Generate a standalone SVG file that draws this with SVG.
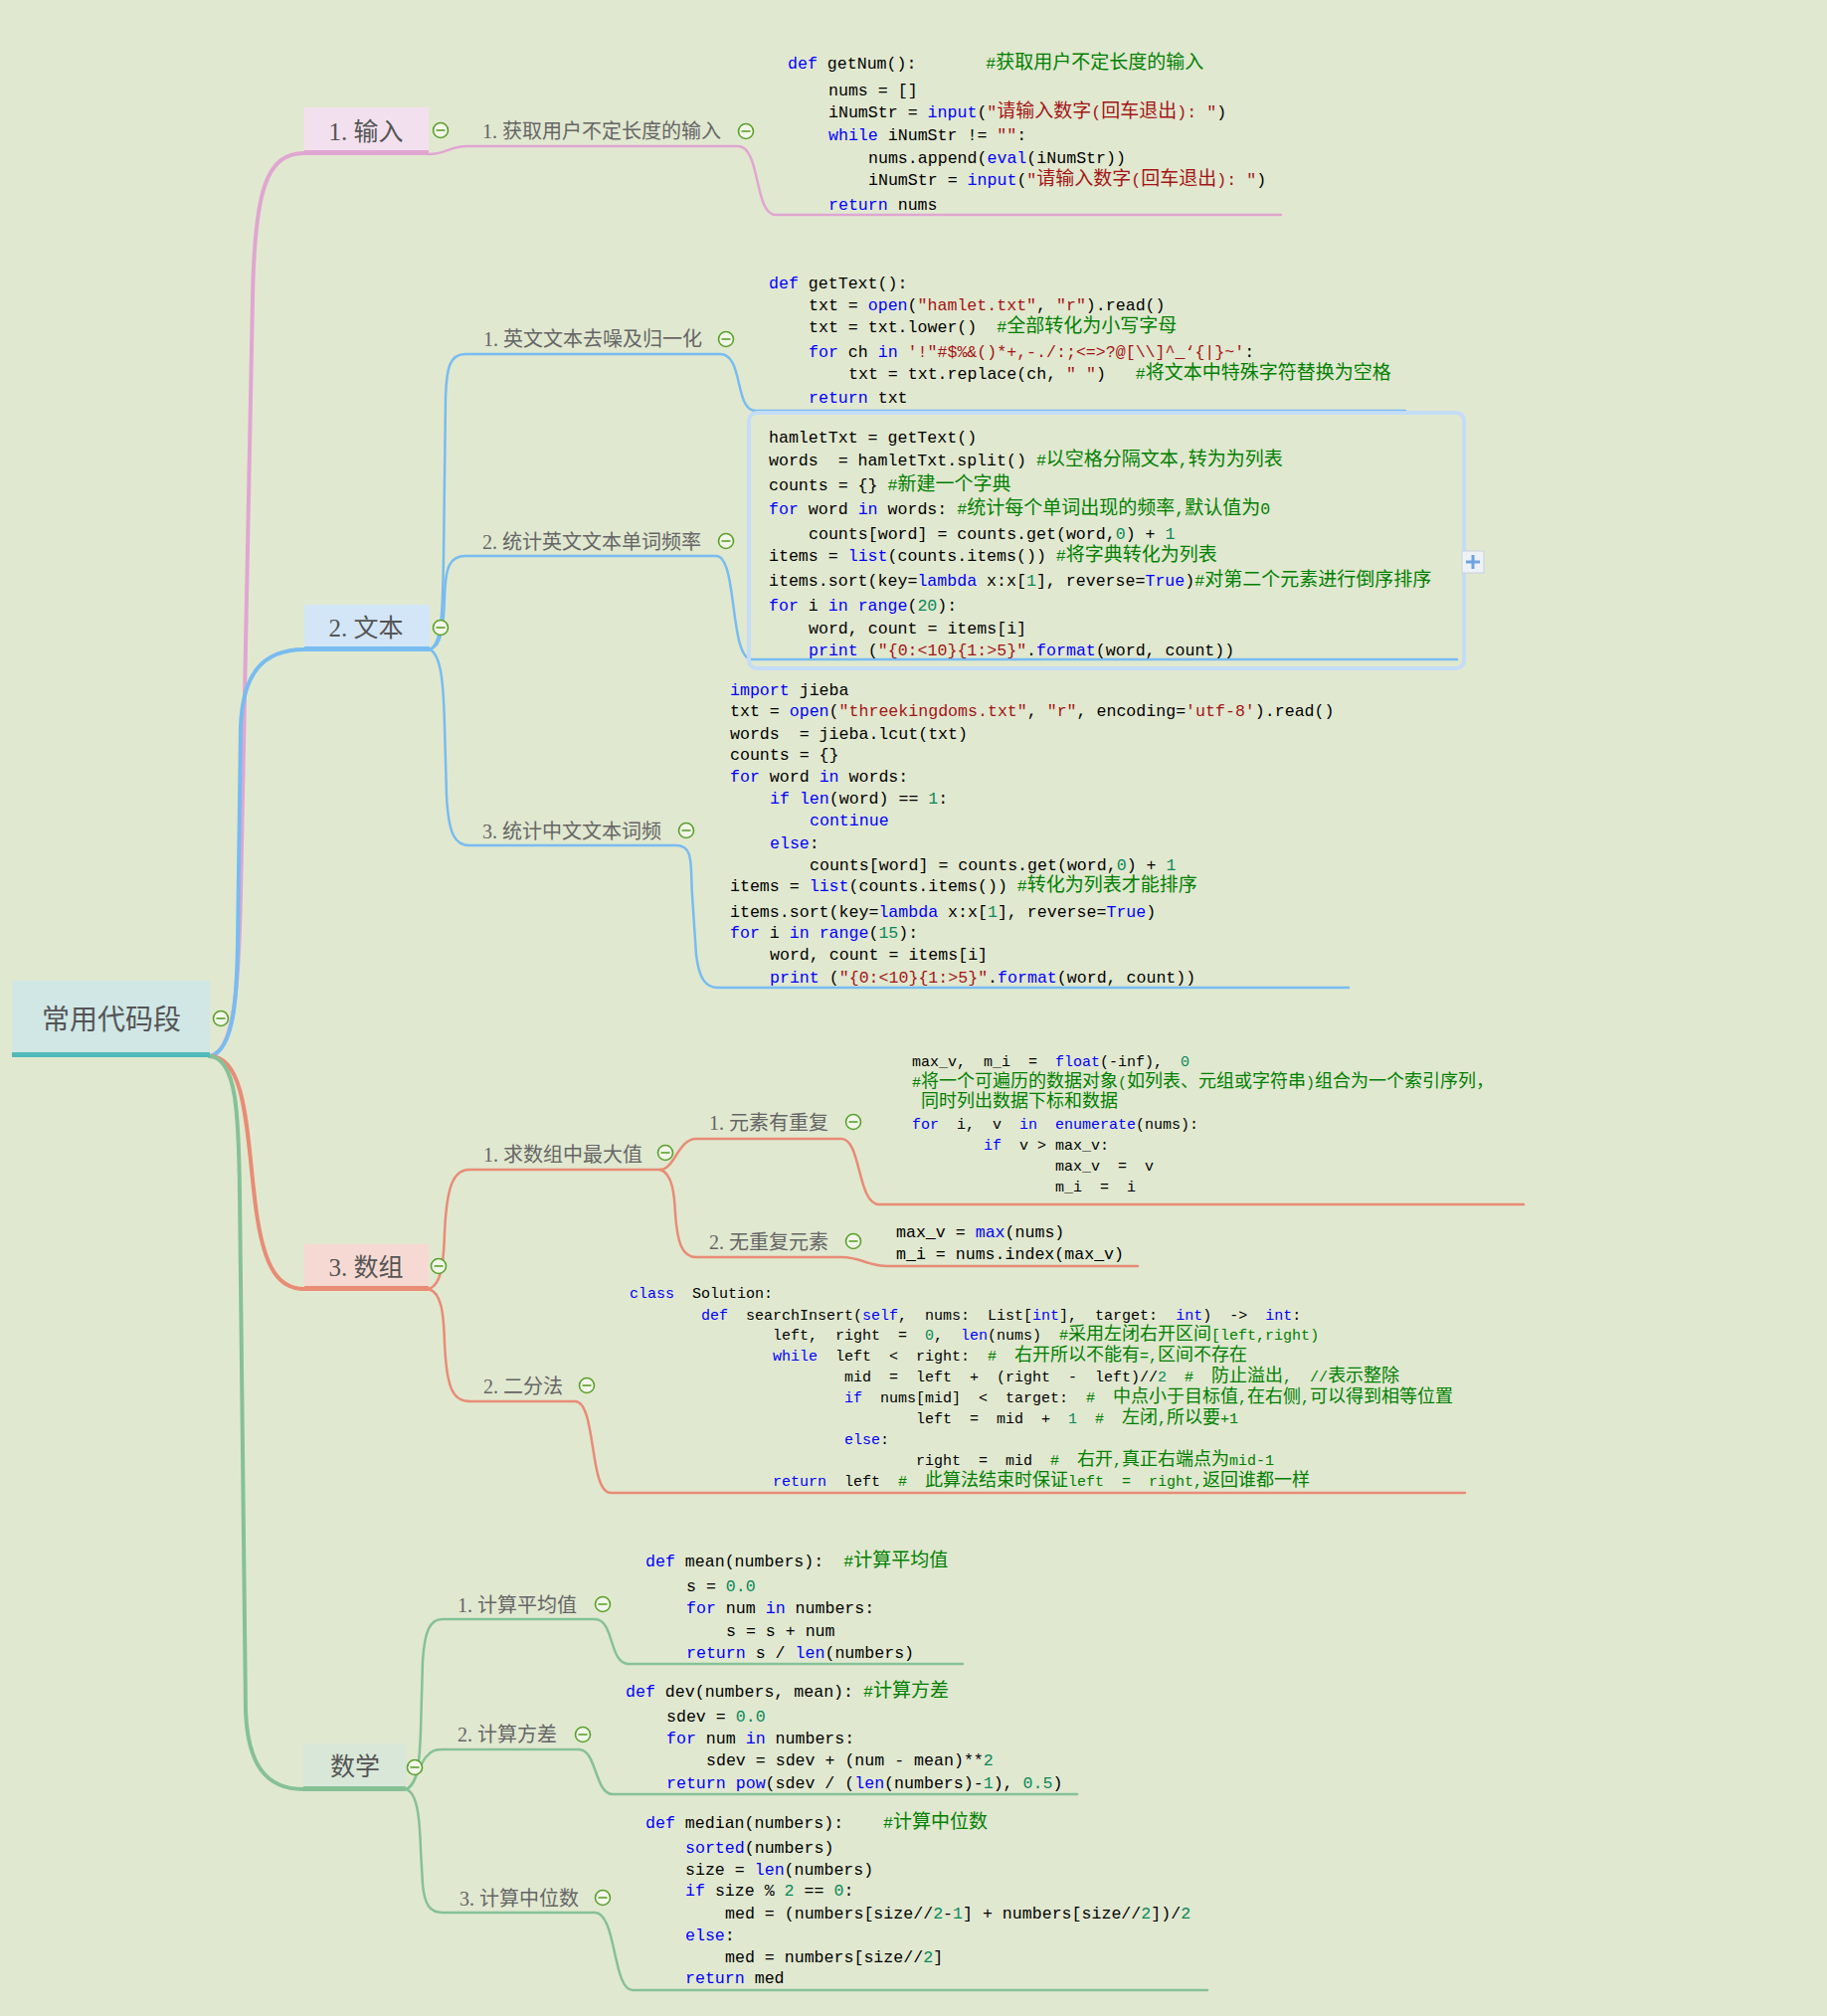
<svg xmlns="http://www.w3.org/2000/svg" xmlns:xlink="http://www.w3.org/1999/xlink" width="1837" height="2027" viewBox="0 0 1837 2027" xml:space="preserve">
<style>
.nt{font-family:"Liberation Serif","Noto Sans CJK SC",serif;font-size:25px;fill:#555;text-anchor:middle}
.st{font-family:"Liberation Serif","Noto Sans CJK SC",serif;font-size:20px;fill:#666}
.cd{font-family:"Liberation Mono","Noto Sans CJK SC",monospace;font-size:16.6px;fill:#000;white-space:pre}
.cs{font-family:"Liberation Mono","Noto Sans CJK SC",monospace;font-size:15px;fill:#000;white-space:pre}
.k{fill:#0000ff}.s{fill:#a31515}.n{fill:#09885a}.c{fill:#008000}
.z{font-size:19px}.y{font-size:18px}
.br{fill:none;stroke-linecap:round}
.pk{stroke:#e0a6d2}.bl{stroke:#78bcf0}.sa{stroke:#e88c76}.gr{stroke:#86c196}
</style>
<defs>
<g id="minus"><circle r="7.5" fill="#f2f7ea" stroke="#5aa02c" stroke-width="1.6"/><line x1="-4.5" y1="0" x2="4.5" y2="0" stroke="#5aa02c" stroke-width="1.6"/></g>
</defs>
<rect width="1837" height="2027" fill="#e1e8d0"/>

<g id="connectors">
<path class="br pk" stroke-width="4" d="M211,1062 C236,1058 240,990 242,900 L254,300 C256,190 268,154 306,154"/>
<path class="br bl" stroke-width="4" d="M211,1062 C236,1056 238,1000 239,950 L242,730 C244,680 262,653 306,653"/>
<path class="br sa" stroke-width="4" d="M211,1062 C250,1062 248,1150 258,1220 C266,1275 280,1296 306,1296"/>
<path class="br gr" stroke-width="4" d="M211,1062 C238,1064 240,1120 241,1200 L247,1720 C249,1775 268,1799 305,1799"/>

<path class="br pk" stroke-width="2.5" d="M431,155 C448,155 452,147 470,147 L742,147 C765,147 758,216 780,216 L1288,216"/>

<path class="br bl" stroke-width="2.5" d="M432,653 C444,648 445,620 446,560 L448,400 C449,370 452,356 468,356 L724,356 C748,356 738,413 760,413 L1413,413"/>
<path class="br bl" stroke-width="2.5" d="M432,653 C444,650 446,630 447,600 C448,570 452,559 468,559 L720,559 C742,559 733,663 756,663 L1465,663"/>
<path class="br bl" stroke-width="2.5" d="M432,653 C444,658 446,690 447,730 L449,800 C451,840 458,850 472,850 L680,850 C698,850 694,870 696,900 L700,960 C703,985 710,993 722,993 L1356,993"/>

<path class="br sa" stroke-width="2.5" d="M431,1296 C444,1292 446,1270 447,1240 C449,1195 455,1176 472,1176 L664,1176"/>
<path class="br sa" stroke-width="2.5" d="M664,1176 C678,1176 682,1145 700,1145 L846,1145 C866,1145 862,1211 884,1211 L1532,1211"/>
<path class="br sa" stroke-width="2.5" d="M664,1176 C676,1180 678,1200 679,1220 C681,1250 686,1264 700,1264 L846,1264 C866,1264 872,1273 892,1273 L1144,1273"/>
<path class="br sa" stroke-width="2.5" d="M431,1296 C444,1300 446,1320 447,1350 C449,1395 455,1409 472,1409 L578,1409 C600,1409 592,1501 614,1501 L1473,1501"/>

<path class="br gr" stroke-width="2.5" d="M408,1799 C420,1796 422,1770 423,1740 L425,1670 C427,1640 432,1628 445,1628 L598,1628 C618,1628 612,1673 632,1673 L968,1673"/>
<path class="br gr" stroke-width="2.5" d="M408,1799 C418,1796 422,1770 430,1765 C434,1760 438,1759 445,1759 L582,1759 C600,1759 598,1804 616,1804 L1083,1804"/>
<path class="br gr" stroke-width="2.5" d="M408,1799 C420,1802 422,1830 423,1860 L425,1895 C427,1915 432,1923 445,1923 L598,1923 C620,1923 616,2001 636,2001 L1214,2001"/>
</g>

<g id="root">
<rect x="12" y="986" width="199" height="74" fill="#d0e7e6"/>
<rect x="12" y="1058" width="199" height="5" fill="#50baba"/>
<text x="112" y="1035" class="nt" style="font-size:28px">常用代码段</text>
<use xlink:href="#minus" x="222" y="1024"/>
</g>

<g id="n-input">
<rect x="306" y="108" width="125" height="46" fill="#f3e0ee"/>
<rect x="306" y="151" width="125" height="5" fill="#e0a6d2"/>
<text x="368" y="141" class="nt">1. 输入</text>
<use xlink:href="#minus" x="443" y="131"/>
</g>

<g id="n-getnum">
<text x="485" y="139" class="st">1. 获取用户不定长度的输入</text>
<use xlink:href="#minus" x="750" y="132"/>
<text class="cd" x="792" y="69"><tspan class="k">def</tspan> getNum():       <tspan class="c">#<tspan class="z">获取用户不定长度的输入</tspan></tspan></text>
<text class="cd" x="833" y="96">nums = []</text>
<text class="cd" x="833" y="118">iNumStr = <tspan class="k">input</tspan>(<tspan class="s">"<tspan class="z">请输入数字</tspan>(<tspan class="z">回车退出</tspan>): "</tspan>)</text>
<text class="cd" x="833" y="141"><tspan class="k">while</tspan> iNumStr != <tspan class="s">""</tspan>:</text>
<text class="cd" x="873" y="164">nums.append(<tspan class="k">eval</tspan>(iNumStr))</text>
<text class="cd" x="873" y="186">iNumStr = <tspan class="k">input</tspan>(<tspan class="s">"<tspan class="z">请输入数字</tspan>(<tspan class="z">回车退出</tspan>): "</tspan>)</text>
<text class="cd" x="833" y="211"><tspan class="k">return</tspan> nums</text>
</g>

<g id="n-text">
<rect x="306" y="608" width="126" height="44" fill="#d3e6f7"/>
<rect x="306" y="650" width="126" height="5" fill="#78bcf0"/>
<text x="368" y="640" class="nt">2. 文本</text>
<use xlink:href="#minus" x="443" y="631"/>
</g>

<g id="n-clean">
<text x="486" y="348" class="st">1. 英文文本去噪及归一化</text>
<use xlink:href="#minus" x="730" y="341"/>
<text class="cd" x="773" y="290"><tspan class="k">def</tspan> getText():</text>
<text class="cd" x="813" y="312">txt = <tspan class="k">open</tspan>(<tspan class="s">"hamlet.txt"</tspan>, <tspan class="s">"r"</tspan>).read()</text>
<text class="cd" x="813" y="334">txt = txt.lower()  <tspan class="c">#<tspan class="z">全部转化为小写字母</tspan></tspan></text>
<text class="cd" x="813" y="359"><tspan class="k">for</tspan> ch <tspan class="k">in</tspan> <tspan class="s">'!"#$%&amp;()*+,-./:;&lt;=&gt;?@[\\]^_‘{|}~'</tspan>:</text>
<text class="cd" x="853" y="381">txt = txt.replace(ch, <tspan class="s">" "</tspan>)   <tspan class="c">#<tspan class="z">将文本中特殊字符替换为空格</tspan></tspan></text>
<text class="cd" x="813" y="405"><tspan class="k">return</tspan> txt</text>
</g>

<g id="n-wordfreq">
<text x="485" y="552" class="st">2. 统计英文文本单词频率</text>
<use xlink:href="#minus" x="730" y="544"/>
<rect x="753" y="415" width="719" height="257" rx="8" fill="none" stroke="#c4dcf6" stroke-width="4"/>
<rect x="1470" y="554" width="22" height="22" fill="#eef2f6" stroke="#c6d2e2" stroke-width="1"/>
<path d="M1474,565 H1488 M1481,558 V572" stroke="#6ea2e2" stroke-width="3"/>
<text class="cd" x="773" y="445">hamletTxt = getText()</text>
<text class="cd" x="773" y="468">words  = hamletTxt.split() <tspan class="c">#<tspan class="z">以空格分隔文本</tspan>,<tspan class="z">转为为列表</tspan></tspan></text>
<text class="cd" x="773" y="493">counts = {} <tspan class="c">#<tspan class="z">新建一个字典</tspan></tspan></text>
<text class="cd" x="773" y="517"><tspan class="k">for</tspan> word <tspan class="k">in</tspan> words: <tspan class="c">#<tspan class="z">统计每个单词出现的频率</tspan>,<tspan class="z">默认值为</tspan>0</tspan></text>
<text class="cd" x="813" y="542">counts[word] = counts.get(word,<tspan class="n">0</tspan>) + <tspan class="n">1</tspan></text>
<text class="cd" x="773" y="564">items = <tspan class="k">list</tspan>(counts.items()) <tspan class="c">#<tspan class="z">将字典转化为列表</tspan></tspan></text>
<text class="cd" x="773" y="589">items.sort(key=<tspan class="k">lambda</tspan> x:x[<tspan class="n">1</tspan>], reverse=<tspan class="k">True</tspan>)<tspan class="c">#<tspan class="z">对第二个元素进行倒序排序</tspan></tspan></text>
<text class="cd" x="773" y="614"><tspan class="k">for</tspan> i <tspan class="k">in</tspan> <tspan class="k">range</tspan>(<tspan class="n">20</tspan>):</text>
<text class="cd" x="813" y="637">word, count = items[i]</text>
<text class="cd" x="813" y="659"><tspan class="k">print</tspan> (<tspan class="s">"{0:&lt;10}{1:&gt;5}"</tspan>.<tspan class="k">format</tspan>(word, count))</text>
</g>

<g id="n-cnfreq">
<text x="485" y="843" class="st">3. 统计中文文本词频</text>
<use xlink:href="#minus" x="690" y="835"/>
<text class="cd" x="734" y="699"><tspan class="k">import</tspan> jieba</text>
<text class="cd" x="734" y="720">txt = <tspan class="k">open</tspan>(<tspan class="s">"threekingdoms.txt"</tspan>, <tspan class="s">"r"</tspan>, encoding=<tspan class="s">'utf-8'</tspan>).read()</text>
<text class="cd" x="734" y="743">words  = jieba.lcut(txt)</text>
<text class="cd" x="734" y="764">counts = {}</text>
<text class="cd" x="734" y="786"><tspan class="k">for</tspan> word <tspan class="k">in</tspan> words:</text>
<text class="cd" x="774" y="808"><tspan class="k">if</tspan> <tspan class="k">len</tspan>(word) == <tspan class="n">1</tspan>:</text>
<text class="cd" x="814" y="830"><tspan class="k">continue</tspan></text>
<text class="cd" x="774" y="853"><tspan class="k">else</tspan>:</text>
<text class="cd" x="814" y="875">counts[word] = counts.get(word,<tspan class="n">0</tspan>) + <tspan class="n">1</tspan></text>
<text class="cd" x="734" y="896">items = <tspan class="k">list</tspan>(counts.items()) <tspan class="c">#<tspan class="z">转化为列表才能排序</tspan></tspan></text>
<text class="cd" x="734" y="922">items.sort(key=<tspan class="k">lambda</tspan> x:x[<tspan class="n">1</tspan>], reverse=<tspan class="k">True</tspan>)</text>
<text class="cd" x="734" y="943"><tspan class="k">for</tspan> i <tspan class="k">in</tspan> <tspan class="k">range</tspan>(<tspan class="n">15</tspan>):</text>
<text class="cd" x="774" y="965">word, count = items[i]</text>
<text class="cd" x="774" y="988"><tspan class="k">print</tspan> (<tspan class="s">"{0:&lt;10}{1:&gt;5}"</tspan>.<tspan class="k">format</tspan>(word, count))</text>
</g>

<g id="n-array">
<rect x="306" y="1251" width="125" height="44" fill="#f6d9d3"/>
<rect x="306" y="1293" width="125" height="5" fill="#e88c76"/>
<text x="368" y="1283" class="nt">3. 数组</text>
<use xlink:href="#minus" x="441" y="1273"/>
</g>

<g id="n-max">
<text x="486" y="1168" class="st">1. 求数组中最大值</text>
<use xlink:href="#minus" x="669" y="1159"/>
</g>

<g id="n-dup">
<text x="713" y="1136" class="st">1. 元素有重复</text>
<use xlink:href="#minus" x="858" y="1128"/>
<text class="cs" x="917" y="1072">max_v,  m_i  =  <tspan class="k">float</tspan>(-inf),  <tspan class="n">0</tspan></text>
<text class="cs" x="917" y="1093"><tspan class="c">#<tspan class="y">将一个可遍历的数据对象</tspan>(<tspan class="y">如列表、元组或字符串</tspan>)<tspan class="y">组合为一个索引序列，</tspan></tspan></text>
<text class="cs" x="917" y="1113"><tspan class="c"> <tspan class="y">同时列出数据下标和数据</tspan></tspan></text>
<text class="cs" x="917" y="1135"><tspan class="k">for</tspan>  i,  v  <tspan class="k">in</tspan>  <tspan class="k">enumerate</tspan>(nums):</text>
<text class="cs" x="989" y="1156"><tspan class="k">if</tspan>  v &gt; max_v:</text>
<text class="cs" x="1061" y="1177">max_v  =  v</text>
<text class="cs" x="1061" y="1198">m_i  =  i</text>
</g>

<g id="n-nodup">
<text x="713" y="1256" class="st">2. 无重复元素</text>
<use xlink:href="#minus" x="858" y="1248"/>
<text class="cd" x="901" y="1244">max_v = <tspan class="k">max</tspan>(nums)</text>
<text class="cd" x="901" y="1266">m_i = nums.index(max_v)</text>
</g>

<g id="n-bisect">
<text x="486" y="1401" class="st">2. 二分法</text>
<use xlink:href="#minus" x="590" y="1393"/>
<text class="cs" x="633" y="1305"><tspan class="k">class</tspan>  Solution:</text>
<text class="cs" x="705" y="1327"><tspan class="k">def</tspan>  searchInsert(<tspan class="k">self</tspan>,  nums:  List[<tspan class="k">int</tspan>],  target:  <tspan class="k">int</tspan>)  -&gt;  <tspan class="k">int</tspan>:</text>
<text class="cs" x="777" y="1347">left,  right  =  <tspan class="n">0</tspan>,  <tspan class="k">len</tspan>(nums)  <tspan class="c">#<tspan class="y">采用左闭右开区间</tspan>[left,right)</tspan></text>
<text class="cs" x="777" y="1368"><tspan class="k">while</tspan>  left  &lt;  right:  <tspan class="c">#  <tspan class="y">右开所以不能有</tspan>=,<tspan class="y">区间不存在</tspan></tspan></text>
<text class="cs" x="849" y="1389">mid  =  left  +  (right  -  left)//<tspan class="n">2</tspan>  <tspan class="c">#  <tspan class="y">防止溢出</tspan>,  //<tspan class="y">表示整除</tspan></tspan></text>
<text class="cs" x="849" y="1410"><tspan class="k">if</tspan>  nums[mid]  &lt;  target:  <tspan class="c">#  <tspan class="y">中点小于目标值</tspan>,<tspan class="y">在右侧</tspan>,<tspan class="y">可以得到相等位置</tspan></tspan></text>
<text class="cs" x="921" y="1431">left  =  mid  +  <tspan class="n">1</tspan>  <tspan class="c">#  <tspan class="y">左闭</tspan>,<tspan class="y">所以要</tspan>+1</tspan></text>
<text class="cs" x="849" y="1452"><tspan class="k">else</tspan>:</text>
<text class="cs" x="921" y="1473">right  =  mid  <tspan class="c">#  <tspan class="y">右开</tspan>,<tspan class="y">真正右端点为</tspan>mid-1</tspan></text>
<text class="cs" x="777" y="1494"><tspan class="k">return</tspan>  left  <tspan class="c">#  <tspan class="y">此算法结束时保证</tspan>left  =  right,<tspan class="y">返回谁都一样</tspan></tspan></text>
</g>

<g id="n-math">
<rect x="305" y="1753" width="103" height="45" fill="#d8e7d8"/>
<rect x="305" y="1796" width="103" height="5" fill="#86c196"/>
<text x="357" y="1785" class="nt">数学</text>
<use xlink:href="#minus" x="417" y="1777"/>
</g>

<g id="n-mean">
<text x="460" y="1621" class="st">1. 计算平均值</text>
<use xlink:href="#minus" x="606" y="1613"/>
<text class="cd" x="649" y="1575"><tspan class="k">def</tspan> mean(numbers):  <tspan class="c">#<tspan class="z">计算平均值</tspan></tspan></text>
<text class="cd" x="690" y="1600">s = <tspan class="n">0.0</tspan></text>
<text class="cd" x="690" y="1622"><tspan class="k">for</tspan> num <tspan class="k">in</tspan> numbers:</text>
<text class="cd" x="730" y="1645">s = s + num</text>
<text class="cd" x="690" y="1667"><tspan class="k">return</tspan> s / <tspan class="k">len</tspan>(numbers)</text>
</g>

<g id="n-dev">
<text x="460" y="1751" class="st">2. 计算方差</text>
<use xlink:href="#minus" x="586" y="1744"/>
<text class="cd" x="629" y="1706"><tspan class="k">def</tspan> dev(numbers, mean): <tspan class="c">#<tspan class="z">计算方差</tspan></tspan></text>
<text class="cd" x="670" y="1731">sdev = <tspan class="n">0.0</tspan></text>
<text class="cd" x="670" y="1753"><tspan class="k">for</tspan> num <tspan class="k">in</tspan> numbers:</text>
<text class="cd" x="710" y="1775">sdev = sdev + (num - mean)**<tspan class="n">2</tspan></text>
<text class="cd" x="670" y="1798"><tspan class="k">return</tspan> <tspan class="k">pow</tspan>(sdev / (<tspan class="k">len</tspan>(numbers)-<tspan class="n">1</tspan>), <tspan class="n">0.5</tspan>)</text>
</g>

<g id="n-median">
<text x="462" y="1916" class="st">3. 计算中位数</text>
<use xlink:href="#minus" x="606" y="1908"/>
<text class="cd" x="649" y="1838"><tspan class="k">def</tspan> median(numbers):    <tspan class="c">#<tspan class="z">计算中位数</tspan></tspan></text>
<text class="cd" x="689" y="1863"><tspan class="k">sorted</tspan>(numbers)</text>
<text class="cd" x="689" y="1885">size = <tspan class="k">len</tspan>(numbers)</text>
<text class="cd" x="689" y="1906"><tspan class="k">if</tspan> size % <tspan class="n">2</tspan> == <tspan class="n">0</tspan>:</text>
<text class="cd" x="729" y="1929">med = (numbers[size//<tspan class="n">2</tspan>-<tspan class="n">1</tspan>] + numbers[size//<tspan class="n">2</tspan>])/<tspan class="n">2</tspan></text>
<text class="cd" x="689" y="1951"><tspan class="k">else</tspan>:</text>
<text class="cd" x="729" y="1973">med = numbers[size//<tspan class="n">2</tspan>]</text>
<text class="cd" x="689" y="1994"><tspan class="k">return</tspan> med</text>
</g>
</svg>
